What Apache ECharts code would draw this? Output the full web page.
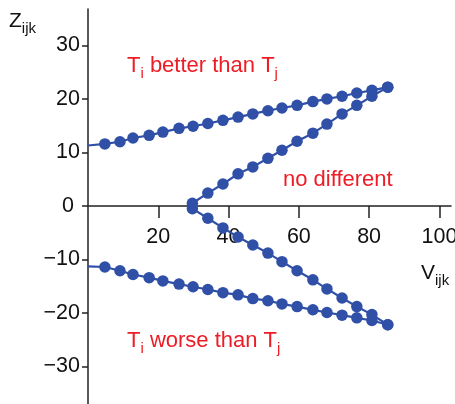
<!DOCTYPE html>
<html>
<head>
<meta charset="utf-8">
<script src="https://cdn.jsdelivr.net/npm/echarts@6/dist/echarts.min.js"></script>
<style>html,body{margin:0;padding:0;background:#fff}#c{width:455px;height:404px}</style>
</head>
<body>
<div id="c"></div>
<script>
// straight branches (shared V values)
var vStraight = [4.8, 9.1, 12.8, 17.4, 21.3, 25.9, 29.9, 34.1, 38.4, 42.7, 46.9, 51.2, 55.2, 59.5, 64.0, 68.0, 72.3, 76.5, 80.8, 85.3];
var zBetter = [11.6, 12.0, 12.7, 13.2, 13.8, 14.5, 14.9, 15.4, 16.0, 16.6, 17.2, 17.8, 18.3, 18.8, 19.5, 20.0, 20.5, 21.1, 21.6, 22.2];
var zWorse = [-11.4, -12.1, -12.8, -13.4, -14.0, -14.6, -15.1, -15.6, -16.2, -16.6, -17.3, -17.7, -18.3, -18.8, -19.4, -19.9, -20.4, -20.9, -21.4, -22.2];
var zBetterAt0 = 11.3;
var zWorseAt0 = -11.3;
// V-shaped branches
var vBranch = [29.7, 34.1, 38.4, 42.7, 46.9, 51.2, 55.2, 59.5, 64.0, 68.0, 72.3, 76.5, 80.8, 85.3];
var zUpper = [0.5, 2.4, 4.1, 6.0, 7.3, 8.9, 10.4, 12.1, 13.6, 15.3, 17.2, 18.8, 20.5, 22.2];
var zLower = [-0.5, -2.3, -4.1, -5.8, -7.3, -8.8, -10.4, -12.1, -13.8, -15.5, -17.2, -18.8, -20.3, -22.2];
var xTicks = [20, 40, 60, 80, 100];
var yTicks = [-30, -20, -10, 0, 10, 20, 30];

var BLUE = '#3050a8';
var RED = '#ee1c25';
var FONT = 'Liberation Sans, Arial, sans-serif';

function pairs(xs, ys) { return xs.map(function (x, i) { return [x, ys[i]]; }); }
function straight(z0, ys) {
  var d = [{ value: [0, z0], symbol: 'none' }];
  return d.concat(pairs(vStraight, ys));
}
function lineSeries(data) {
  return {
    type: 'line', data: data, symbol: 'circle', symbolSize: 11.5,
    lineStyle: { color: BLUE, width: 2.2 }, itemStyle: { color: BLUE },
    animation: false, z: 3
  };
}
var richRed = {
  a: { fontSize: 22, fontFamily: FONT, fill: RED, color: RED, lineHeight: 30, verticalAlign: 'middle' },
  s: { fontSize: 15, fontFamily: FONT, fill: RED, color: RED, lineHeight: 15, verticalAlign: 'bottom' }
};
var richBlack = {
  a: { fontSize: 21, fontFamily: FONT, fill: '#111', color: '#111', lineHeight: 30, verticalAlign: 'middle' },
  s: { fontSize: 15, fontFamily: FONT, fill: '#111', color: '#111', lineHeight: 15, verticalAlign: 'bottom' }
};

var GRID_TOP = 9, GRID_H = 395, YMIN = -37, YMAX = 36.8;
var zeroOffset = -GRID_H * (0 - YMIN) / (YMAX - YMIN);

var chart = echarts.init(document.getElementById('c'), null, { renderer: 'canvas' });
chart.setOption({
  backgroundColor: '#fff',
  animation: false,
  grid: { left: 88, top: GRID_TOP, width: 363, height: GRID_H, outerBoundsMode: 'none', containLabel: false },
  xAxis: {
    type: 'value', min: 0, max: 103.3, position: 'bottom', offset: zeroOffset,
    axisLine: { onZero: false, lineStyle: { color: '#222', width: 1.5 } },
    axisTick: { customValues: xTicks, length: 12, lineStyle: { color: '#222', width: 1.5 } },
    axisLabel: { customValues: xTicks, margin: 20, fontSize: 21.5, fontFamily: FONT, color: '#111' },
    splitLine: { show: false }
  },
  yAxis: {
    type: 'value', min: YMIN, max: YMAX,
    axisLine: { onZero: false, lineStyle: { color: '#222', width: 1.5 } },
    axisTick: { customValues: yTicks, length: 6, lineStyle: { color: '#222', width: 1.5 } },
    axisLabel: {
      customValues: yTicks, margin: 8, fontSize: 21.5, fontFamily: FONT, color: '#111',
      formatter: function (v) { return v === 0 ? '{z|0}' : (v < 0 ? '\u2212' + (-v) : String(v)); },
      rich: { z: { fontSize: 21.5, fontFamily: FONT, color: '#111', padding: [0, 6, 0, 0] } }
    },
    splitLine: { show: false }
  },
  series: [
    lineSeries(straight(zBetterAt0, zBetter)),
    lineSeries(straight(zWorseAt0, zWorse)),
    lineSeries(pairs(vBranch, zUpper)),
    lineSeries(pairs(vBranch, zLower))
  ],
  graphic: [
    { type: 'text', x: 9, y: 6, style: { text: '{a|Z}{s|ijk}', rich: richBlack } },
    { type: 'text', x: 421, y: 258, style: { text: '{a|V}{s|ijk}', rich: richBlack } },
    { type: 'text', x: 127, y: 51, style: { text: '{a|T}{s|i}{a| better than T}{s|j}', rich: richRed } },
    { type: 'text', x: 283, y: 165, style: { text: '{a|no different}', rich: richRed } },
    { type: 'text', x: 127, y: 326, style: { text: '{a|T}{s|i}{a| worse than T}{s|j}', rich: richRed } }
  ]
});
</script>
</body>
</html>
